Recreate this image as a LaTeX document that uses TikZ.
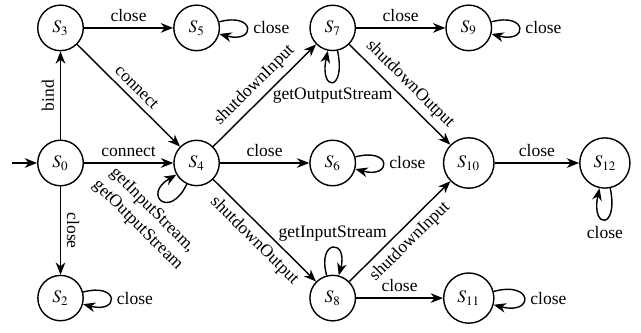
\documentclass[tikz,border=0pt]{standalone}
\usepackage{mathptmx}
\usepackage{fontspec}
\setmainfont{Liberation Serif}
\usetikzlibrary{arrows.meta}

\begin{document}
\begin{tikzpicture}[x=2.73cm,y=2.71cm,thick,
  >={Stealth[length=7pt,width=5.5pt,inset=2.2pt]},
  st/.style={circle,draw,inner sep=4.8pt}]
  \useasboundingbox (-1.214cm,-3.41cm) rectangle (11.645cm,3.27cm);
  % states
  \node[st] (S0) at (0,0) {$S_0$};
  \node[st] (S3) at (0,1) {$S_3$};
  \node[st] (S2) at (0,-1) {$S_2$};
  \node[st] (S4) at (1,0) {$S_4$};
  \node[st] (S5) at (1,1) {$S_5$};
  \node[st] (S7) at (2,1) {$S_7$};
  \node[st] (S6) at (2,0) {$S_6$};
  \node[st] (S8) at (2,-1) {$S_8$};
  \node[st] (S9) at (3,1) {$S_9$};
  \node[st] (S10) at (3,0) {$S_{10}$};
  \node[st] (S11) at (3,-1) {$S_{11}$};
  \node[st] (S12) at (4,0) {$S_{12}$};
  \coordinate (init) at (-0.355,0);

  % transitions
  \draw[->] (init) -- (S0);
  \draw[->] (S0) -- node[above,sloped] {bind} (S3);
  \draw[->] (S0) -- node[above] {connect} (S4);
  \draw[->] (S0) -- node[above,sloped] {close} (S2);
  \draw[->] (S3) -- node[above] {close} (S5);
  \draw[->] (S3) -- node[above,sloped] {connect} (S4);
  \draw[->] (S4) -- node[above,sloped] {shutdownInput} (S7);
  \draw[->] (S4) -- node[above] {close} (S6);
  \draw[->] (S4) -- node[below,sloped] {shutdownOutput} (S8);
  \draw[->] (S7) -- node[above] {close} (S9);
  \draw[->] (S7) -- node[above,sloped] {shutdownOutput} (S10);
  \draw[->] (S8) -- node[below,sloped] {shutdownInput} (S10);
  \draw[->] (S8) -- node[above] {close} (S11);
  \draw[->] (S10) -- node[above] {close} (S12);

  % loops
  \draw[->] (S5) to[loop right] node[right] {close} (S5);
  \draw[->] (S9) to[loop right] node[right] {close} (S9);
  \draw[->] (S6) to[loop right] node[right] {close} (S6);
  \draw[->] (S2) to[loop right] node[right] {close} (S2);
  \draw[->] (S11) to[loop right] node[right] {close} (S11);
  \draw[->] (S8) to[loop above] node[above] {getInputStream} (S8);
  \draw[->] (S7.-78) .. controls +(-78:0.85cm) and +(-102:0.85cm) .. node[below] {getOutputStream} (S7.-102);
  \draw[->] (S12.-78) .. controls +(-78:0.85cm) and +(-102:0.85cm) .. node[below] {close} (S12.-102);
  \draw[->] (S4.-115) .. controls +(-115:0.8cm) and +(-150:0.8cm) ..
    node[rotate=-45,anchor=north,align=center] {getInputStream,\\getOutputStream} (S4.-150);
\end{tikzpicture}
\end{document}
